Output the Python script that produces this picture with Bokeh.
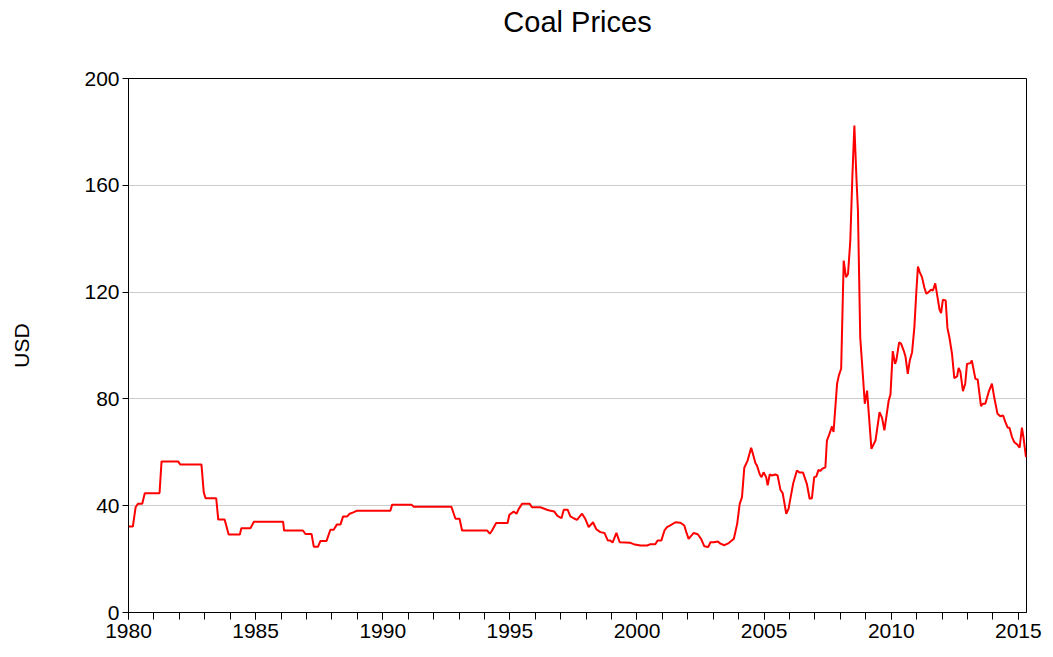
from bokeh.plotting import figure
from bokeh.embed import file_html
from bokeh.resources import INLINE
from bokeh.models import Range1d, SingleIntervalTicker, FixedTicker, ColumnDataSource, Title

# Monthly coal price (USD)
years = [1980.00, 1980.17, 1980.28, 1980.37, 1980.54, 1980.64, 1981.22, 1981.30, 1981.95, 1982.04,
         1982.87, 1982.96, 1983.03, 1983.45, 1983.53, 1983.78, 1983.94, 1984.38, 1984.44, 1984.80,
         1984.93, 1986.08, 1986.12, 1986.86, 1986.96, 1987.20, 1987.29, 1987.45, 1987.55, 1987.79,
         1987.94, 1988.07, 1988.20, 1988.34, 1988.44, 1988.60, 1988.70, 1988.82, 1988.97, 1990.30,
         1990.37, 1991.13, 1991.22, 1992.70, 1992.86, 1993.02, 1993.12, 1994.11, 1994.21, 1994.30,
         1994.46, 1994.91, 1994.98, 1995.15, 1995.26, 1995.35, 1995.48, 1995.78, 1995.87, 1996.20,
         1996.46, 1996.56, 1996.75, 1996.86, 1997.03, 1997.12, 1997.27, 1997.38, 1997.51, 1997.64,
         1997.84, 1997.97, 1998.10, 1998.27, 1998.40, 1998.56, 1998.72, 1998.85, 1998.95, 1999.04,
         1999.19, 1999.32, 1999.74, 1999.87, 2000.13, 2000.40, 2000.53, 2000.72, 2000.81, 2000.96,
         2001.08, 2001.18, 2001.31, 2001.51, 2001.71, 2001.86, 2001.94, 2002.03, 2002.23, 2002.39,
         2002.52, 2002.65, 2002.80, 2002.89, 2003.02, 2003.18, 2003.28, 2003.44, 2003.61, 2003.81,
         2003.94, 2004.04, 2004.13, 2004.22, 2004.35, 2004.49, 2004.56, 2004.66, 2004.72, 2004.83,
         2004.90, 2004.98, 2005.08, 2005.14, 2005.22, 2005.31, 2005.44, 2005.53, 2005.64, 2005.73,
         2005.87, 2005.96, 2006.14, 2006.29, 2006.39, 2006.53, 2006.68, 2006.79, 2006.88, 2006.97,
         2007.05, 2007.14, 2007.21, 2007.28, 2007.41, 2007.47, 2007.57, 2007.67, 2007.73, 2007.87,
         2007.94, 2008.03, 2008.13, 2008.22, 2008.30, 2008.39, 2008.47, 2008.55, 2008.63, 2008.69,
         2008.78, 2008.89, 2008.96, 2009.05, 2009.22, 2009.38, 2009.54, 2009.64, 2009.73, 2009.90,
         2009.97, 2010.06, 2010.15, 2010.20, 2010.31, 2010.39, 2010.49, 2010.56, 2010.65, 2010.73,
         2010.82, 2010.91, 2010.99, 2011.05, 2011.12, 2011.21, 2011.30, 2011.38, 2011.47, 2011.56,
         2011.64, 2011.73, 2011.82, 2011.90, 2011.96, 2012.03, 2012.14, 2012.21, 2012.29, 2012.39,
         2012.48, 2012.59, 2012.65, 2012.72, 2012.82, 2012.91, 2012.98, 2013.11, 2013.17, 2013.31,
         2013.40, 2013.53, 2013.61, 2013.70, 2013.83, 2013.96, 2014.05, 2014.18, 2014.29, 2014.40,
         2014.49, 2014.58, 2014.65, 2014.75, 2014.84, 2014.97, 2015.05, 2015.14, 2015.20, 2015.30]

prices = [32.2, 32.2, 39.4, 40.7, 40.7, 44.7, 44.7, 56.6, 56.6, 55.4,
          55.4, 45.0, 42.8, 42.8, 34.8, 34.8, 29.2, 29.2, 31.6, 31.6,
          34.0, 34.0, 30.7, 30.7, 29.4, 29.4, 24.6, 24.6, 26.8, 26.8,
          31.0, 31.0, 33.0, 33.0, 36.0, 36.0, 37.0, 37.4, 38.1, 38.1,
          40.4, 40.4, 39.6, 39.6, 35.1, 35.1, 30.7, 30.7, 29.5, 30.7,
          33.5, 33.5, 36.6, 37.8, 37.0, 38.8, 40.7, 40.7, 39.4, 39.4,
          38.5, 38.2, 37.8, 36.3, 35.3, 38.5, 38.5, 36.0, 35.3, 34.7,
          37.0, 35.0, 32.0, 33.8, 31.2, 30.1, 29.8, 27.0, 27.0, 26.2,
          29.8, 26.3, 26.1, 25.6, 25.1, 25.1, 25.6, 25.6, 27.0, 27.0,
          30.7, 32.0, 32.6, 33.8, 33.6, 32.6, 30.1, 27.6, 29.8, 29.3,
          27.6, 24.8, 24.5, 26.3, 26.3, 26.6, 25.8, 25.2, 26.0, 27.6,
          33.2, 40.7, 43.2, 54.2, 56.9, 61.7, 59.4, 55.9, 55.0, 51.7,
          50.7, 52.5, 50.7, 47.6, 51.7, 51.3, 51.7, 51.3, 46.0, 44.7,
          37.0, 38.8, 48.2, 53.2, 52.4, 52.4, 48.2, 42.6, 42.8, 50.7,
          50.9, 53.4, 53.0, 53.8, 54.4, 64.4, 66.9, 69.7, 67.6, 85.7,
          88.8, 91.3, 131.8, 125.6, 126.8, 139.3, 163.0, 182.4, 163.0, 150.6,
          103.1, 88.1, 78.2, 83.1, 61.3, 64.4, 75.0, 72.9, 68.2, 79.4,
          81.6, 97.9, 93.1, 94.4, 101.2, 100.6, 98.1, 95.9, 89.4, 94.4,
          97.5, 106.9, 120.6, 129.6, 127.5, 125.6, 121.8, 119.4, 120.0, 120.9,
          120.6, 123.3, 118.1, 113.4, 112.1, 117.1, 116.9, 106.6, 102.9, 96.9,
          87.8, 88.4, 91.6, 90.1, 82.9, 85.7, 93.1, 93.4, 94.4, 87.5,
          87.3, 77.3, 78.2, 78.2, 82.5, 85.7, 80.6, 74.4, 73.5, 73.8,
          71.3, 69.2, 69.2, 65.7, 63.8, 62.8, 61.7, 69.2, 65.7, 58.2]

y_ticks = [0, 40, 80, 120, 160, 200]
title_text = "Coal Prices"
y_label = "USD"

FONT = "Liberation Sans"

p = figure(width=1045, height=649, output_backend="svg", toolbar_location=None,
           x_range=Range1d(1980.0, 2015.32), y_range=Range1d(0, 200),
           min_border_left=128, min_border_right=19, min_border_top=78, min_border_bottom=37)

# empty spacer between the frame and the title, then the title itself
p.add_layout(Title(text=" ", text_font_size="2px", standoff=34), "above")
p.add_layout(Title(text=title_text, align="center", text_font=FONT, text_font_size="29px",
                   text_font_style="normal", text_color="black", standoff=6), "above")

src = ColumnDataSource(dict(x=years, y=prices))
p.line("x", "y", source=src, line_color="#ff0000", line_width=2)

p.outline_line_color = "black"
p.outline_line_width = 1
p.outline_line_alpha = 1.0
p.background_fill_color = "white"
p.border_fill_color = "white"

# x axis
xa = p.xaxis[0]
xa.ticker = SingleIntervalTicker(interval=5, num_minor_ticks=5)
xa.major_label_text_font = FONT
xa.major_label_text_font_size = "21px"
xa.major_label_text_color = "black"
xa.major_label_standoff = 4
xa.major_tick_in = 0
xa.major_tick_out = 7
xa.minor_tick_in = 0
xa.minor_tick_out = 7
xa.axis_line_color = "black"
xa.major_tick_line_color = "black"
xa.minor_tick_line_color = "black"

# y axis
ya = p.yaxis[0]
ya.ticker = FixedTicker(ticks=y_ticks)
ya.axis_label = y_label
ya.axis_label_text_font = FONT
ya.axis_label_text_font_size = "21px"
ya.axis_label_text_font_style = "normal"
ya.axis_label_text_color = "black"
ya.axis_label_standoff = 48
ya.major_label_text_font = FONT
ya.major_label_text_font_size = "21px"
ya.major_label_text_color = "black"
ya.major_label_standoff = 3
ya.major_tick_in = 0
ya.major_tick_out = 6
ya.minor_tick_line_color = None
ya.axis_line_color = "black"
ya.major_tick_line_color = "black"

p.xgrid.grid_line_color = None
p.ygrid.grid_line_color = "#cccccc"
p.ygrid.grid_line_width = 1

open("out.html", "w").write(file_html(p, INLINE))
